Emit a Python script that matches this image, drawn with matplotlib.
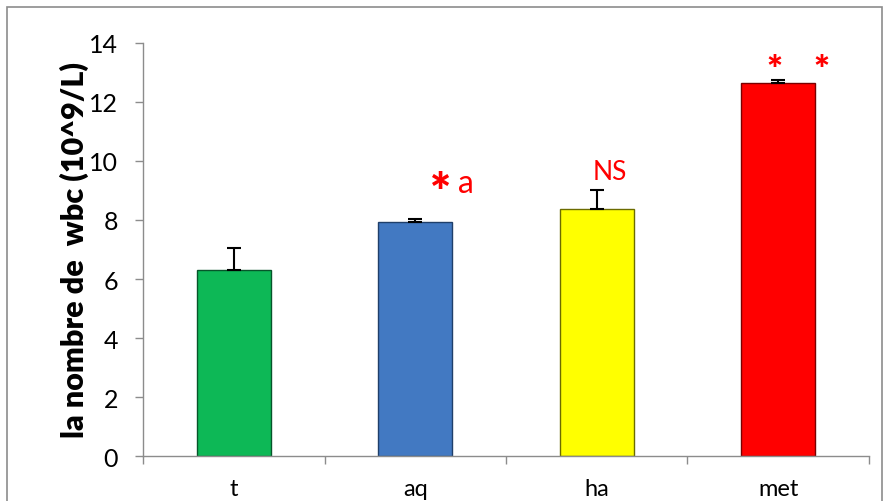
import matplotlib
matplotlib.use("Agg")
import matplotlib.pyplot as plt
import numpy as np

# mean wbc count per group, with upper error
groups = ['t', 'aq', 'ha', 'met']
means = [6.32, 7.92, 8.38, 12.66]
errs = [0.72, 0.1, 0.62, 0.1]
colors = ['#0DB856', '#4279C2', '#FFFF00', '#FF0000']
edges = ['#06552A', '#1F3F6A', '#6B6B00', '#7A0000']

plt.rcParams['font.family'] = ['Lato', 'DejaVu Sans']

fig = plt.figure(figsize=(8.84, 5.02), dpi=100)
ax = fig.add_axes([0.1618, 0.0896, 0.8212, 0.8228])

# grey border round the whole chart area
fig.patches.append(plt.Rectangle((0.008, -0.01), 0.99, 0.995, transform=fig.transFigure,
                                 fill=False, edgecolor='#8c8c8c', linewidth=1.2))

x = np.arange(len(groups))
ax.bar(x, means, width=0.41, color=colors, edgecolor=edges, linewidth=1.0, zorder=2)
ax.errorbar(x, means, yerr=[np.zeros(len(errs)), errs], fmt='none',
            ecolor='black', elinewidth=1.5, capsize=5, capthick=1.5, zorder=3)

ax.set_xlim(-0.5, len(groups) - 0.5)
ax.set_ylim(0, 14)
ax.set_yticks(range(0, 15, 2))
ax.set_xticks(x)
ax.set_xticklabels(groups)
ax.set_xticks(np.arange(-0.5, len(groups), 1), minor=True)
ax.tick_params(axis='x', which='major', length=0, pad=16, labelsize=17)
ax.tick_params(axis='x', which='minor', length=6, color='#8c8c8c', width=1)
ax.tick_params(axis='y', length=6, color='#8c8c8c', width=1, labelsize=18, pad=12)

for side in ['top', 'right']:
    ax.spines[side].set_visible(False)
for side in ['left', 'bottom']:
    ax.spines[side].set_color('#8c8c8c')
    ax.spines[side].set_linewidth(1)

ax.set_ylabel('la nombre de  wbc (10^9/L)', fontsize=22, fontweight='heavy', labelpad=0)

# significance marks
ax.text(1.14, 8.9, '*', color='red', fontsize=36, fontweight='heavy', ha='center', va='center')
ax.text(1.28, 9.25, 'a', color='red', fontsize=23, ha='center', va='center')
ax.text(2.07, 9.65, 'NS', color='red', fontsize=19, ha='center', va='center')
ax.text(2.98, 13.1, '*', color='red', fontsize=27, fontweight='heavy', ha='center', va='center')
ax.text(3.24, 13.1, '*', color='red', fontsize=27, fontweight='heavy', ha='center', va='center')

fig.savefig('out.png', dpi=100)
